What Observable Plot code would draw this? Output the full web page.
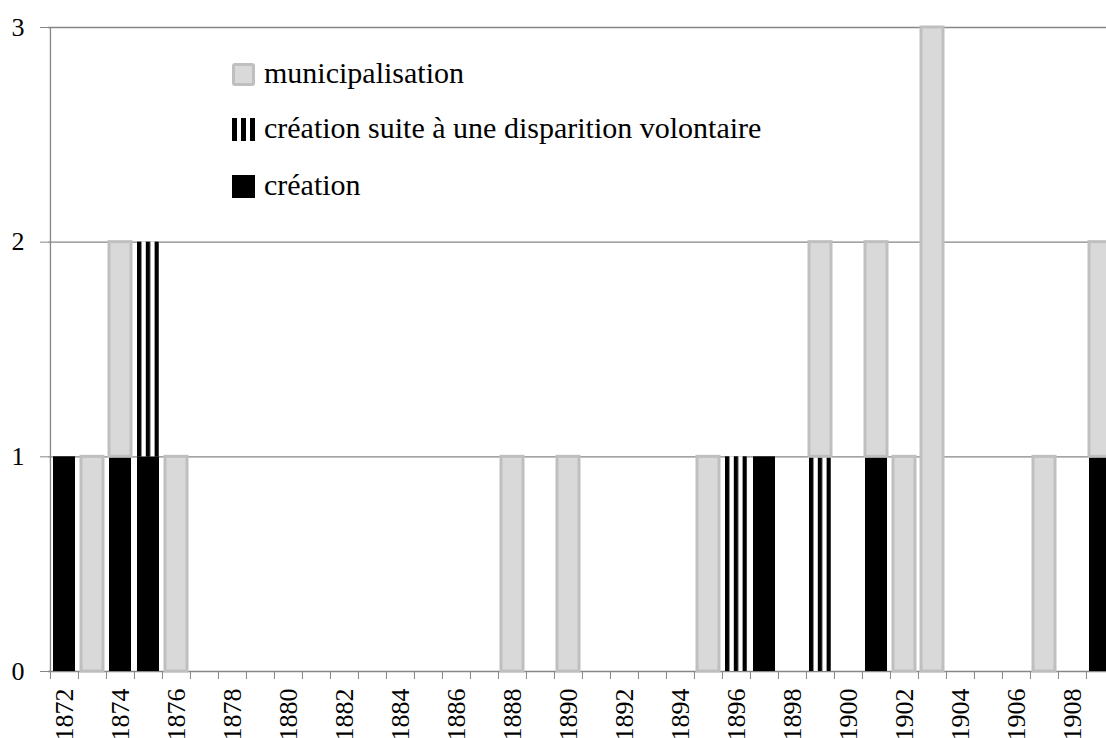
<!DOCTYPE html>
<html><head><meta charset="utf-8">
<script src="https://cdn.jsdelivr.net/npm/d3@7"></script>
<script src="https://cdn.jsdelivr.net/npm/@observablehq/plot@0.6"></script>
<style>
html,body{margin:0;padding:0;background:#fff;overflow:hidden;}
#wrap{position:relative;width:1106px;height:738px;overflow:hidden;}
</style></head><body><div id="wrap"></div>
<script>
const years = [1872,1873,1874,1875,1876,1877,1878,1879,1880,1881,1882,1883,1884,1885,1886,1887,1888,1889,1890,1891,1892,1893,1894,1895,1896,1897,1898,1899,1900,1901,1902,1903,1904,1905,1906,1907,1908,1909];
const creation =         [1,0,1,1,0,0,0,0,0,0,0,0,0,0,0,0,0,0,0,0,0,0,0,0,0,1,0,0,0,1,0,0,0,0,0,0,0,1];
const creationSuite =    [0,0,0,1,0,0,0,0,0,0,0,0,0,0,0,0,0,0,0,0,0,0,0,0,1,0,0,1,0,0,0,0,0,0,0,0,0,0];
const municipalisation = [0,1,1,0,1,0,0,0,0,0,0,0,0,0,0,0,1,0,1,0,0,0,0,1,0,0,0,1,0,1,1,3,0,0,0,1,0,1];
const tickLabels = [1872,1874,1876,1878,1880,1882,1884,1886,1888,1890,1892,1894,1896,1898,1900,1902,1904,1906,1908];
const yTicks = [0,1,2,3];
const seriesNames = ["municipalisation","création suite à une disparition volontaire","création"];

// stacking (bottom to top): création, création suite..., municipalisation
const rows = [];
years.forEach((yr, i) => {
  let base = 0;
  [["creation", creation], ["suite", creationSuite], ["muni", municipalisation]].forEach(([key, arr]) => {
    const v = arr[i];
    if (v > 0) { rows.push({year: yr, key, y1: base, y2: base + v}); base += v; }
  });
});

const step = 28.1;
const axisColor = "#868686";

const plot = Plot.plot({
  width: 1106,
  height: 738,
  marginTop: 27,
  marginBottom: 67,
  marginLeft: 48,
  marginRight: 0,
  style: "background:white;overflow:hidden;color:black;font-family:'Liberation Serif';font-size:26px;",
  x: {type: "band", domain: years, range: [48, 48 + years.length * step], paddingInner: 0.2, paddingOuter: 0.1, align: 0.5, label: null},
  y: {domain: [0, 3], label: null},
  marks: [
    Plot.ruleY(yTicks, {stroke: axisColor, strokeWidth: 1.3}),
    Plot.ruleX([years[0]], {x: d => d, dx: -step / 2, stroke: axisColor, strokeWidth: 1.3}),
    Plot.barY(rows.filter(d => d.key === "creation"), {x: "year", y1: "y1", y2: "y2", fill: "black"}),
    Plot.barY(rows.filter(d => d.key === "suite"), {x: "year", y1: "y1", y2: "y2", fill: "url(#stripes)"}),
    Plot.barY(rows.filter(d => d.key === "muni"), {x: "year", y1: "y1", y2: "y2", fill: "#d9d9d9", stroke: "#bfbfbf", strokeWidth: 3}),
    Plot.axisY({ticks: yTicks, tickFormat: d => String(d), tickSize: 8, tickPadding: 16, stroke: axisColor, fill: "black", fontSize: 26, label: null}),
    Plot.axisX({ticks: years, tickSize: 8, tickFormat: () => "", stroke: axisColor, dx: -step / 2, label: null}),
    Plot.axisX({ticks: tickLabels, tickFormat: d => String(d), tickSize: 0, tickRotate: -90, tickPadding: 17, fill: "black", fontSize: 26, label: null})
  ]
});

const svgEl = plot.tagName.toLowerCase() === "svg" ? plot : plot.querySelector("svg");
const svg = d3.select(svgEl);
const defs = svg.insert("defs", ":first-child");
const pat = defs.append("pattern").attr("id", "stripes")
  .attr("patternUnits", "objectBoundingBox").attr("patternContentUnits", "objectBoundingBox")
  .attr("width", 0.4).attr("height", 1);
pat.append("rect").attr("width", 0.4).attr("height", 1).attr("fill", "white");
pat.append("rect").attr("width", 0.2).attr("height", 1).attr("fill", "black");
svg.selectAll("text").attr("style", "font-family:'Liberation Serif';font-size:26px");

const wrap = document.getElementById("wrap");
wrap.appendChild(plot);

// legend (HTML overlay, positioned over the plot's upper-left empty area)
const items = [
  {name: seriesNames[0], type: "muni", top: 54},
  {name: seriesNames[1], type: "suite", top: 109},
  {name: seriesNames[2], type: "creation", top: 166}
];
items.forEach(it => {
  const row = document.createElement("div");
  row.setAttribute("style", `position:absolute;left:232px;top:${it.top}px;white-space:nowrap;font-family:'Liberation Serif';font-size:30px;line-height:38px;color:#000;`);
  const sw = document.createElement("span");
  let swStyle = "display:inline-block;width:23px;height:23px;box-sizing:border-box;vertical-align:-3px;margin-right:9px;";
  if (it.type === "muni") swStyle += "background:#d9d9d9;border:3px solid #bfbfbf;border-radius:3px;";
  else if (it.type === "suite") swStyle += "background:repeating-linear-gradient(90deg,#000 0 5px,#fff 5px 9px);";
  else swStyle += "background:#000;";
  sw.setAttribute("style", swStyle);
  const lab = document.createElement("span");
  lab.setAttribute("style", "font-family:'Liberation Serif';");
  lab.textContent = it.name;
  row.appendChild(sw);
  row.appendChild(lab);
  wrap.appendChild(row);
});
</script>
</body></html>
